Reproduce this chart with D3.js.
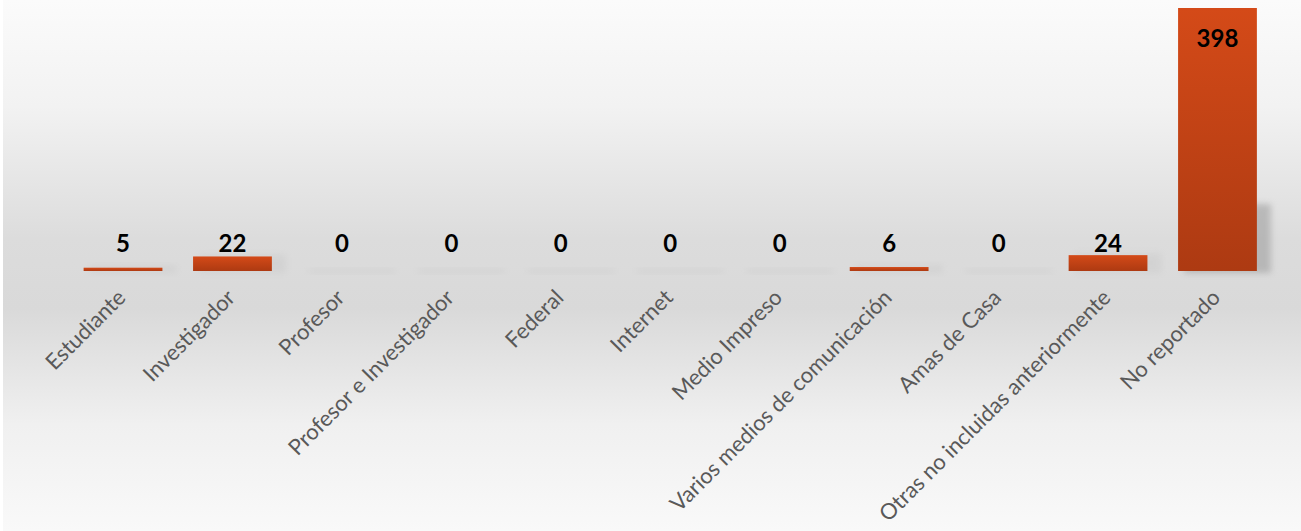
<!DOCTYPE html>
<html>
<head>
<meta charset="utf-8">
<script src="https://cdn.jsdelivr.net/npm/d3@7"></script>
<style>
  html, body { margin: 0; padding: 0; background: #fff; }
  svg { display: block; }
</style>
</head>
<body>
<div id="chart"></div>
<script>
// DATA
const categories = [
  "Estudiante", "Investigador", "Profesor", "Profesor e Investigador",
  "Federal", "Internet", "Medio Impreso", "Varios medios de comunicación",
  "Amas de Casa", "Otras no incluidas anteriormente", "No reportado"
];
const values = [5, 22, 0, 0, 0, 0, 0, 6, 0, 24, 398];

// LAYOUT
const W = 1301, H = 531;
const baseline = 271;

const svg = d3.select("#chart").append("svg")
  .attr("width", W).attr("height", H);

const defs = svg.append("defs");

// background gradient: light top, grey band at the axis, light bottom
const bg = defs.append("linearGradient").attr("id", "bg")
  .attr("x1", 0).attr("y1", 0).attr("x2", 0).attr("y2", 1);
bg.append("stop").attr("offset", "0%").attr("stop-color", "#fbfbfb");
bg.append("stop").attr("offset", "20%").attr("stop-color", "#f2f2f2");
bg.append("stop").attr("offset", "45%").attr("stop-color", "#dcdcdc");
bg.append("stop").attr("offset", "58%").attr("stop-color", "#d9d9d9");
bg.append("stop").attr("offset", "80%").attr("stop-color", "#f0f0f0");
bg.append("stop").attr("offset", "100%").attr("stop-color", "#f9f9f9");

// bar gradient
const bar = defs.append("linearGradient").attr("id", "bar")
  .attr("x1", 0).attr("y1", 0).attr("x2", 0).attr("y2", 1);
bar.append("stop").attr("offset", "0%").attr("stop-color", "#d44a18");
bar.append("stop").attr("offset", "100%").attr("stop-color", "#ad3a12");

const blur = defs.append("filter").attr("id", "blur")
  .attr("x", "-50%").attr("y", "-50%").attr("width", "200%").attr("height", "200%");
blur.append("feGaussianBlur").attr("stdDeviation", 3);

svg.append("rect")
  .attr("x", 3).attr("y", 0).attr("width", W - 3).attr("height", H)
  .attr("fill", "url(#bg)");

// SCALES
const x = d3.scaleBand()
  .domain(categories)
  .range([68.3, 1272.2])
  .paddingInner(0.28)
  .paddingOuter(0.14);

const y = d3.scaleLinear()
  .domain([0, 398])
  .range([baseline, 8]);

const rows = categories.map((c, i) => ({ cat: c, val: values[i] }));

// ── shadows ──
svg.append("g").selectAll("rect").data(rows).join("rect")
  .attr("x", d => x(d.cat) + 6)
  .attr("width", x.bandwidth() + 8)
  .attr("y", d => Math.max(y(d.val), baseline - 65) - 2)
  .attr("height", d => baseline - Math.max(y(d.val), baseline - 65) + 4)
  .attr("fill", "#9a9a9a")
  .attr("opacity", d => d.val > 100 ? 0.55 : 0.12)
  .attr("filter", "url(#blur)");

// ── bars ──
svg.append("g").selectAll("rect").data(rows).join("rect")
  .attr("x", d => x(d.cat))
  .attr("width", x.bandwidth())
  .attr("y", d => Math.min(y(d.val), baseline - 3))
  .attr("height", d => d.val > 0 ? baseline - Math.min(y(d.val), baseline - 3) : 0)
  .attr("fill", "url(#bar)");

// ── value labels ──
svg.append("g").selectAll("text").data(rows).join("text")
  .attr("x", d => x(d.cat) + x.bandwidth() / 2)
  .attr("y", d => y(d.val) < 40 ? y(d.val) + 39 : Math.min(y(d.val) - 3, 252))
  .attr("text-anchor", "middle")
  .style("font-family", "Lato, 'Open Sans', sans-serif")
  .style("font-weight", "bold")
  .style("font-size", "24px")
  .attr("fill", "#000")
  .text(d => d.val);

// ── axis labels ──
const xAxis = svg.append("g")
  .attr("transform", `translate(0,${baseline})`)
  .call(d3.axisBottom(x).tickSize(0).tickPadding(0));
xAxis.select(".domain").remove();
xAxis.selectAll("text")
  .style("font-family", "Lato, 'Open Sans', sans-serif")
  .style("font-size", "22px")
  .attr("fill", "#595959")
  .attr("text-anchor", "end")
  .attr("dy", 0)
  .attr("transform", "translate(4,28) rotate(-45)");
</script>
</body>
</html>
